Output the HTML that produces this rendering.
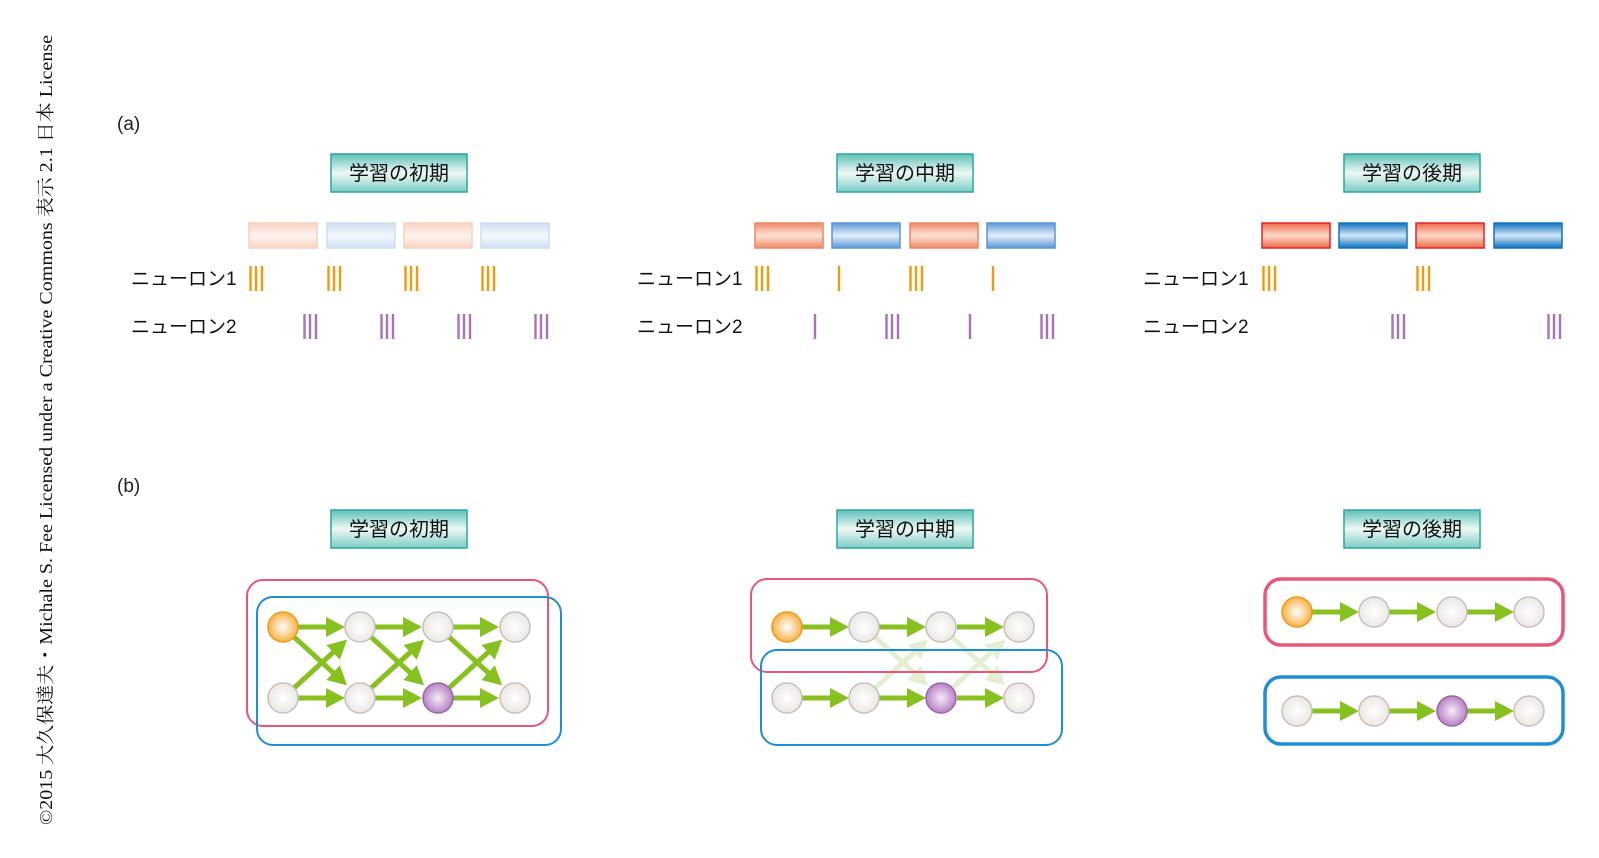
<!DOCTYPE html>
<html><head><meta charset="utf-8"><style>
html,body{margin:0;padding:0;background:#fff}
svg{display:block}
text{font-family:"Liberation Sans","Noto Sans CJK JP",sans-serif}
</style></head><body>
<svg width="1599" height="858" viewBox="0 0 1599 858" xmlns="http://www.w3.org/2000/svg">
<defs>
<linearGradient id="tg" x1="0" y1="0" x2="0" y2="1"><stop offset="0" stop-color="#5fc1b9"/><stop offset="0.5" stop-color="#eef8f6"/><stop offset="1" stop-color="#7ccdc5"/></linearGradient>
<linearGradient id="r3" x1="0" y1="0" x2="0" y2="1"><stop offset="0" stop-color="#ec6a45"/><stop offset="0.5" stop-color="#fcd9c9"/><stop offset="1" stop-color="#ec6a45"/></linearGradient>
<linearGradient id="b3" x1="0" y1="0" x2="0" y2="1"><stop offset="0" stop-color="#0f72c0"/><stop offset="0.5" stop-color="#d3e6f7"/><stop offset="1" stop-color="#0f72c0"/></linearGradient>
<linearGradient id="r2" x1="0" y1="0" x2="0" y2="1"><stop offset="0" stop-color="#f08a68"/><stop offset="0.5" stop-color="#fde2d7"/><stop offset="1" stop-color="#f08a68"/></linearGradient>
<linearGradient id="b2" x1="0" y1="0" x2="0" y2="1"><stop offset="0" stop-color="#5d97d6"/><stop offset="0.5" stop-color="#e3eefa"/><stop offset="1" stop-color="#5d97d6"/></linearGradient>
<linearGradient id="r1" x1="0" y1="0" x2="0" y2="1"><stop offset="0" stop-color="#fad3c3"/><stop offset="0.5" stop-color="#fff4ef"/><stop offset="1" stop-color="#fad3c3"/></linearGradient>
<linearGradient id="b1" x1="0" y1="0" x2="0" y2="1"><stop offset="0" stop-color="#cfdff3"/><stop offset="0.5" stop-color="#f3f8fd"/><stop offset="1" stop-color="#cfdff3"/></linearGradient>
<radialGradient id="gw" cx="0.5" cy="0.5" r="0.5"><stop offset="0" stop-color="#ffffff"/><stop offset="1" stop-color="#ebe8e5"/></radialGradient>
<radialGradient id="go" cx="0.5" cy="0.5" r="0.5"><stop offset="0" stop-color="#ffffff"/><stop offset="1" stop-color="#f7b24a"/></radialGradient>
<radialGradient id="gp" cx="0.5" cy="0.5" r="0.5"><stop offset="0" stop-color="#f6ecf8"/><stop offset="1" stop-color="#b782c4"/></radialGradient>
<marker id="ah" markerUnits="userSpaceOnUse" markerWidth="22" markerHeight="22" refX="8" refY="10" orient="auto"><path d="M0,0 L19,10 L0,20 z" fill="#86c11f"/></marker>
<marker id="al" markerUnits="userSpaceOnUse" markerWidth="22" markerHeight="22" refX="8" refY="10" orient="auto"><path d="M0,0 L19,10 L0,20 z" fill="#e4efd2"/></marker>
</defs>

<text transform="translate(52,825) rotate(-90)" style="font-family:'Liberation Serif','Noto Serif CJK SC',serif" font-size="18" textLength="790" lengthAdjust="spacingAndGlyphs" fill="#111">©2015 大久保達夫・Michale S. Fee Licensed under a Creative Commons 表示 2.1 日本 License</text>

<text x="117" y="130" font-size="19" fill="#222">(a)</text>
<text x="117" y="492" font-size="19" fill="#222">(b)</text>

<g font-size="20" fill="#111" text-anchor="middle">
<rect x="331" y="154" width="136" height="38" fill="url(#tg)" stroke="#2aa9a1" stroke-width="1.5"/><text x="399" y="180">学習の初期</text>
<rect x="837" y="154" width="136" height="38" fill="url(#tg)" stroke="#2aa9a1" stroke-width="1.5"/><text x="905" y="180">学習の中期</text>
<rect x="1344" y="154" width="136" height="38" fill="url(#tg)" stroke="#2aa9a1" stroke-width="1.5"/><text x="1412" y="180">学習の後期</text>
<rect x="331" y="510" width="136" height="38" fill="url(#tg)" stroke="#2aa9a1" stroke-width="1.5"/><text x="399" y="536">学習の初期</text>
<rect x="837" y="510" width="136" height="38" fill="url(#tg)" stroke="#2aa9a1" stroke-width="1.5"/><text x="905" y="536">学習の中期</text>
<rect x="1344" y="510" width="136" height="38" fill="url(#tg)" stroke="#2aa9a1" stroke-width="1.5"/><text x="1412" y="536">学習の後期</text>
</g>

<g stroke-width="1.5">
<rect x="249" y="223" width="68" height="25" fill="url(#r1)" stroke="#fad0bf"/>
<rect x="327" y="223" width="68" height="25" fill="url(#b1)" stroke="#cddcf1"/>
<rect x="404" y="223" width="68" height="25" fill="url(#r1)" stroke="#fad0bf"/>
<rect x="481" y="223" width="68" height="25" fill="url(#b1)" stroke="#cddcf1"/>
<rect x="755" y="223" width="68" height="25" fill="url(#r2)" stroke="#ee8663"/>
<rect x="832" y="223" width="68" height="25" fill="url(#b2)" stroke="#5b94d4"/>
<rect x="910" y="223" width="68" height="25" fill="url(#r2)" stroke="#ee8663"/>
<rect x="987" y="223" width="68" height="25" fill="url(#b2)" stroke="#5b94d4"/>
<rect x="1262" y="223" width="68" height="25" fill="url(#r3)" stroke="#e52228"/>
<rect x="1339" y="223" width="68" height="25" fill="url(#b3)" stroke="#1273bf"/>
<rect x="1416" y="223" width="68" height="25" fill="url(#r3)" stroke="#e52228"/>
<rect x="1494" y="223" width="68" height="25" fill="url(#b3)" stroke="#1273bf"/>
</g>

<g font-size="19" fill="#111">
<text x="131" y="285">ニューロン1</text><text x="131" y="333">ニューロン2</text>
<text x="637" y="285">ニューロン1</text><text x="637" y="333">ニューロン2</text>
<text x="1143" y="285">ニューロン1</text><text x="1143" y="333">ニューロン2</text>
</g>

<g stroke="#f29a0e" stroke-width="2.4">
<path d="M250.5,266v25M256,266v25M262,266v25 M328.5,266v25M334,266v25M340,266v25 M405.5,266v25M411,266v25M417,266v25 M482.5,266v25M488,266v25M494,266v25"/>
<path d="M756.5,266v25M762,266v25M768,266v25 M839,266v25 M910.5,266v25M916,266v25M922,266v25 M993,266v25"/>
<path d="M1263.5,266v25M1269,266v25M1275,266v25 M1417.5,266v25M1423,266v25M1429,266v25"/>
</g>
<g stroke="#a873b5" stroke-width="2.4">
<path d="M304.5,314v25M310,314v25M316,314v25 M381.5,314v25M387,314v25M393,314v25 M458.5,314v25M464,314v25M470,314v25 M535.5,314v25M541,314v25M547,314v25"/>
<path d="M815,314v25 M886.5,314v25M892,314v25M898,314v25 M970,314v25 M1041.5,314v25M1047,314v25M1053,314v25"/>
<path d="M1392.5,314v25M1398,314v25M1404,314v25 M1548.5,314v25M1554,314v25M1560,314v25"/>
</g>

<rect x="247" y="580" width="301" height="146" rx="16" fill="none" stroke="#e9567a" stroke-width="2"/>
<rect x="257" y="597" width="304" height="148" rx="16" fill="none" stroke="#1e8fd6" stroke-width="2"/>
<g stroke="#86c11f" stroke-width="5" marker-end="url(#ah)">
<line x1="298" y1="627" x2="334" y2="627"/><line x1="375" y1="627" x2="411" y2="627"/><line x1="453" y1="627" x2="488" y2="627"/>
<line x1="298" y1="698" x2="334" y2="698"/><line x1="375" y1="698" x2="411" y2="698"/><line x1="453" y1="698" x2="488" y2="698"/>
<line x1="294" y1="637" x2="339" y2="678"/><line x1="294" y1="688" x2="339" y2="647"/>
<line x1="371" y1="637" x2="416" y2="678"/><line x1="371" y1="688" x2="416" y2="647"/>
<line x1="449" y1="637" x2="494" y2="678"/><line x1="449" y1="688" x2="494" y2="647"/>
</g>
<g stroke-width="1.5">
<circle cx="283" cy="627" r="15" fill="url(#go)" stroke="#f29a0e"/><circle cx="360" cy="627" r="15" fill="url(#gw)" stroke="#c9bfb8"/><circle cx="438" cy="627" r="15" fill="url(#gw)" stroke="#c9bfb8"/><circle cx="515" cy="627" r="15" fill="url(#gw)" stroke="#c9bfb8"/>
<circle cx="283" cy="698" r="15" fill="url(#gw)" stroke="#c9bfb8"/><circle cx="360" cy="698" r="15" fill="url(#gw)" stroke="#c9bfb8"/><circle cx="438" cy="698" r="15" fill="url(#gp)" stroke="#9b66ad"/><circle cx="515" cy="698" r="15" fill="url(#gw)" stroke="#c9bfb8"/>
</g>

<g stroke="#e4efd2" stroke-width="5" marker-end="url(#al)">
<line x1="875" y1="637" x2="920" y2="678"/><line x1="875" y1="688" x2="920" y2="647"/>
<line x1="952" y1="637" x2="997" y2="678"/><line x1="952" y1="688" x2="997" y2="647"/>
</g>
<rect x="751" y="579" width="296" height="93" rx="16" fill="none" stroke="#e9567a" stroke-width="2"/>
<rect x="761" y="650" width="301" height="95" rx="16" fill="none" stroke="#1e8fd6" stroke-width="2"/>
<g stroke="#86c11f" stroke-width="5" marker-end="url(#ah)">
<line x1="802" y1="627" x2="838" y2="627"/><line x1="879" y1="627" x2="915" y2="627"/><line x1="957" y1="627" x2="993" y2="627"/>
<line x1="802" y1="698" x2="838" y2="698"/><line x1="879" y1="698" x2="915" y2="698"/><line x1="957" y1="698" x2="993" y2="698"/>
</g>
<g stroke-width="1.5">
<circle cx="787" cy="627" r="15" fill="url(#go)" stroke="#f29a0e"/><circle cx="864" cy="627" r="15" fill="url(#gw)" stroke="#c9bfb8"/><circle cx="941" cy="627" r="15" fill="url(#gw)" stroke="#c9bfb8"/><circle cx="1019" cy="627" r="15" fill="url(#gw)" stroke="#c9bfb8"/>
<circle cx="787" cy="698" r="15" fill="url(#gw)" stroke="#c9bfb8"/><circle cx="864" cy="698" r="15" fill="url(#gw)" stroke="#c9bfb8"/><circle cx="941" cy="698" r="15" fill="url(#gp)" stroke="#9b66ad"/><circle cx="1019" cy="698" r="15" fill="url(#gw)" stroke="#c9bfb8"/>
</g>

<rect x="1265" y="579" width="298" height="66" rx="16" fill="none" stroke="#e9567a" stroke-width="3.5"/>
<rect x="1265" y="677" width="298" height="67" rx="16" fill="none" stroke="#1e8fd6" stroke-width="3.5"/>
<g stroke="#86c11f" stroke-width="5" marker-end="url(#ah)">
<line x1="1312" y1="612" x2="1348" y2="612"/><line x1="1389" y1="612" x2="1425" y2="612"/><line x1="1467" y1="612" x2="1503" y2="612"/>
<line x1="1312" y1="711" x2="1348" y2="711"/><line x1="1389" y1="711" x2="1425" y2="711"/><line x1="1467" y1="711" x2="1503" y2="711"/>
</g>
<g stroke-width="1.5">
<circle cx="1297" cy="612" r="15" fill="url(#go)" stroke="#f29a0e"/><circle cx="1374" cy="612" r="15" fill="url(#gw)" stroke="#c9bfb8"/><circle cx="1452" cy="612" r="15" fill="url(#gw)" stroke="#c9bfb8"/><circle cx="1529" cy="612" r="15" fill="url(#gw)" stroke="#c9bfb8"/>
<circle cx="1297" cy="711" r="15" fill="url(#gw)" stroke="#c9bfb8"/><circle cx="1374" cy="711" r="15" fill="url(#gw)" stroke="#c9bfb8"/><circle cx="1452" cy="711" r="15" fill="url(#gp)" stroke="#9b66ad"/><circle cx="1529" cy="711" r="15" fill="url(#gw)" stroke="#c9bfb8"/>
</g>
</svg>
</body></html>
